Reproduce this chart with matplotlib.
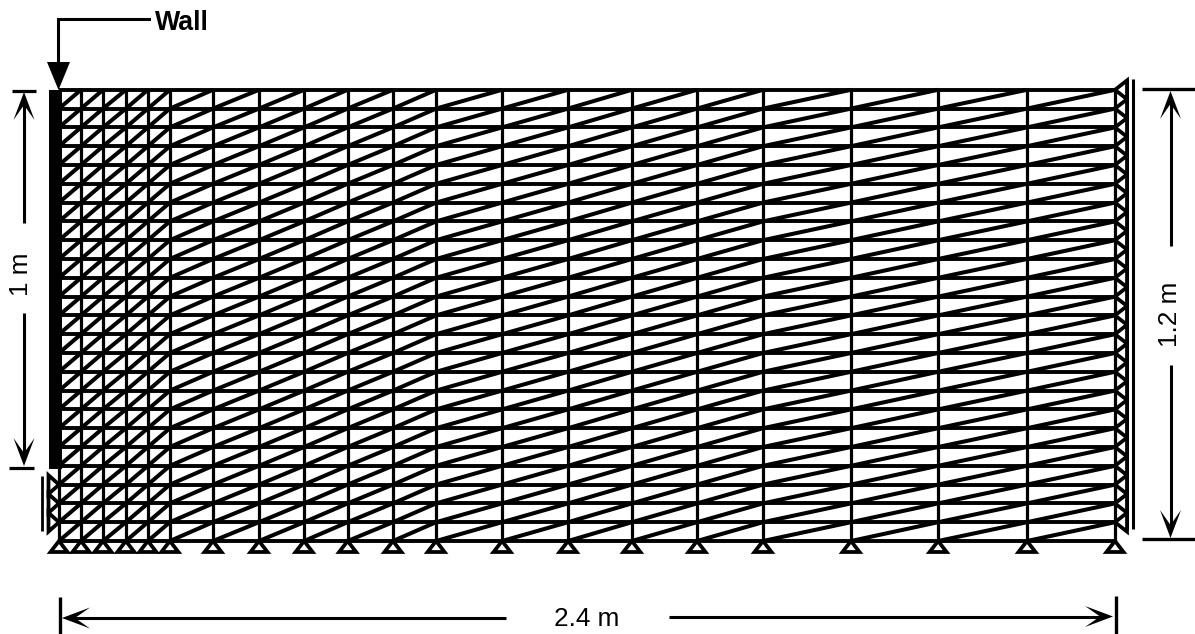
import numpy as np
import matplotlib
matplotlib.use("Agg")
import matplotlib.pyplot as plt
from matplotlib.patches import Polygon, Rectangle

W, H = 1195, 634
# Mesh node positions in metres
x_nodes = [0, .05, .1, .152, .202, .252, .35, .4545, .557, .656, .759, .857,
           1.007, 1.157, 1.302, 1.45, 1.6, 1.8, 1.998, 2.2, 2.4]
y_nodes = [0.05 * i for i in range(25)]
left_support_rows = [0.05, 0.10, 0.15]
dim_labels = ["Wall", "1 m", "1.2 m", "2.4 m"]

# pixel <-> metre mapping
X0, SX = 59.0, 440.0
Y0, SY = 541.0, 376.0
px = lambda p: (p - X0) / SX
py = lambda p: (Y0 - p) / SY

fig = plt.figure(figsize=(W / 100, H / 100), dpi=100, facecolor="white")
ax = fig.add_axes([0, 0, 1, 1])
ax.set_xlim(px(0), px(W))
ax.set_ylim(py(H), py(0))
ax.axis("off")

K = "black"
LW_H, LW_V, LW_D, LW_S = 2.8, 2.3, 2.9, 2.7
xmax, ymax = x_nodes[-1], y_nodes[-1]

# Mesh
for y in y_nodes:
    ax.plot([0, xmax], [y, y], color=K, lw=LW_H, solid_capstyle="butt", zorder=2)
for x in x_nodes:
    ax.plot([x, x], [0, ymax], color=K, lw=LW_V, solid_capstyle="butt", zorder=2)
for x1, x2 in zip(x_nodes[:-1], x_nodes[1:]):
    for y1, y2 in zip(y_nodes[:-1], y_nodes[1:]):
        ax.plot([x1, x2], [y1, y2], color=K, lw=LW_D, solid_capstyle="butt", zorder=2)

# Wall
ax.add_patch(Rectangle((px(49), py(469)), px(62) - px(49), py(90) - py(469),
                       fc=K, ec="none", zorder=3))

# Supports (open triangles, apex on the node)
def tri(pts):
    ax.add_patch(Polygon(pts, closed=True, fc="white", ec=K, lw=LW_S,
                         joinstyle="miter", zorder=1.5))

hw, hh = 8.5 / SX, 11.0 / SY
for x in x_nodes:
    ax.add_patch(Polygon([(x, 0), (x - hw, -hh), (x + hw, -hh)], closed=True,
                         fc="white", ec=K, lw=LW_S, joinstyle="miter", zorder=4))
ww, wh = 12.0 / SX, 9.4 / SY
for y in y_nodes[1:]:
    tri([(xmax, y), (xmax + ww, y - wh), (xmax + ww, y + wh)])
left_w = 10.5 / SX
for y in left_support_rows:
    tri([(0, y), (-left_w, y - wh), (-left_w, y + wh)])

def vline(x, p1, p2, lw=2.2):
    ax.plot([px(x)] * 2, [py(p1), py(p2)], color=K, lw=lw, solid_capstyle="butt", zorder=3)

def hline(p, x1, x2, lw=2.2):
    ax.plot([px(x1), px(x2)], [py(p)] * 2, color=K, lw=lw, solid_capstyle="butt", zorder=3)

def head(tipx, tipy, dx, dy, L=28, Hw=10.5, notch=13):
    """Swept open arrowhead, tip at a pixel position, pointing along (dx, dy)."""
    nx, ny = -dy, dx
    pts = [(tipx, tipy),
           (tipx - dx * L + nx * Hw, tipy - dy * L + ny * Hw),
           (tipx - dx * notch, tipy - dy * notch),
           (tipx - dx * L - nx * Hw, tipy - dy * L - ny * Hw)]
    ax.add_patch(Polygon([(px(a), py(b)) for a, b in pts], closed=True,
                         fc=K, ec="none", zorder=5))

# Boundary rails
vline(1127, 79, 529, 2.2)
vline(1133, 79, 529, 2.2)
vline(48, 476, 531, 2.0)
vline(41.7, 476, 531, 2.0)

# Wall pointer
ax.plot([px(149), px(58), px(58)], [py(19), py(19), py(66)], color=K, lw=2.2,
        solid_joinstyle="miter", zorder=3)
ax.add_patch(Polygon([(px(47), py(62)), (px(70), py(62)), (px(58.5), py(90))],
                     closed=True, fc=K, ec="none", zorder=5))
ax.text(px(155), py(23.5), dim_labels[0], fontfamily="Liberation Sans", fontweight="bold",
        fontsize=19.3, ha="left", va="center", color=K)

# 1 m dimension
hline(90.5, 12, 36, 2.3)
hline(468, 9, 34, 2.3)
vline(24, 100, 223)
vline(24, 313, 460)
head(24, 92, 0, -1)
head(24, 466, 0, 1)
ax.text(px(21.5), py(274.5), dim_labels[1], rotation=90, fontfamily="Liberation Sans",
        fontsize=18.8, ha="center", va="center", color=K)

# 1.2 m dimension
hline(88.5, 1142, 1195, 2.4)
hline(539, 1142, 1195, 2.4)
vline(1170.5, 100, 246)
vline(1170.5, 365, 530)
head(1170.5, 91, 0, -1)
head(1170.5, 538, 0, 1)
ax.text(px(1170), py(314.5), dim_labels[2], rotation=90, fontfamily="Liberation Sans",
        fontsize=18.8, ha="center", va="center", color=K)

# 2.4 m dimension
vline(60, 597, 634, 2.4)
vline(1116, 596, 634, 2.4)
hline(618, 70, 506)
hline(617, 669, 1105)
head(62, 618, -1, 0)
head(1113, 616.5, 1, 0)
ax.text(px(587), py(619.5), dim_labels[3], fontfamily="Liberation Sans", fontsize=18.8,
        ha="center", va="center", color=K)

fig.savefig("out.png", dpi=100, facecolor="white")
